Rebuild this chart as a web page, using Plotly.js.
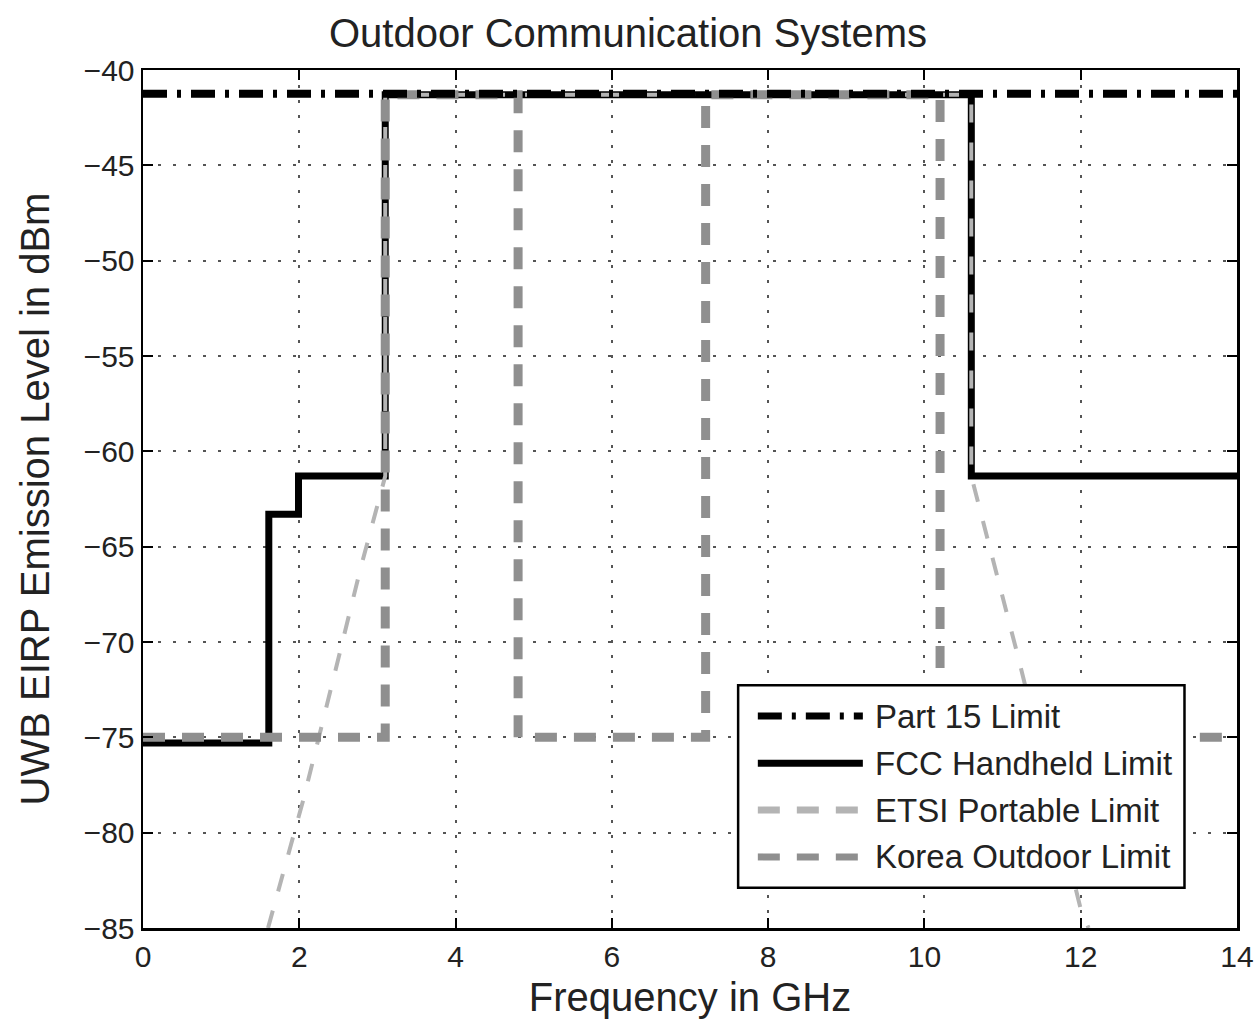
<!DOCTYPE html>
<html>
<head>
<meta charset="utf-8">
<script src="https://cdn.plot.ly/plotly-3.0.1.min.js"></script>
<style>
html,body{margin:0;padding:0;background:#fff;}
#chart{width:1256px;height:1026px;}
</style>
</head>
<body>
<div id="chart"></div>
<script>
// ---- data ----
const part15Freq  = [0, 14];
const part15Level = [-41.25, -41.25];

const fccFreq  = [0, 1.61, 1.61, 1.99, 1.99, 3.1, 3.1, 10.6, 10.6, 14];
const fccLevel = [-75.3, -75.3, -63.3, -63.3, -61.3, -61.3, -41.3, -41.3, -61.3, -61.3];

const etsiFreq  = [1.6, 2.05, 2.42, 2.78, 3.1, 3.1, 10.6, 10.6, 11.2, 12.0, 12.1];
const etsiLevel = [-85, -78.3, -72.2, -66.2, -61.3, -41.3, -41.3, -61.3, -70.8, -84.0, -85];

const koreaFreq  = [0, 3.1, 3.1, 4.8, 4.8, 7.2, 7.2, 10.2, 10.2, 14];
const koreaLevel = [-75, -75, -41.3, -41.3, -75, -75, -41.3, -41.3, -75, -75];

const seriesNames = ["Part 15 Limit", "FCC Handheld Limit", "ETSI Portable Limit", "Korea Outdoor Limit"];

// ---- styles ----
const FONT = "Liberation Sans, Arial, Helvetica, sans-serif";
const TXT = "#222";
const styles = {
  part15: {color: "#000000", width: 8, dash: "24px,10px,4px,10px"},
  fcc:    {color: "#000000", width: 7, dash: "solid"},
  etsi:   {color: "#b4b4b4", width: 4, dash: "18px,20px"},
  korea:  {color: "#8f8f8f", width: 9, dash: "22px,17px"}
};

const traces = [
  {x: fccFreq, y: fccLevel, name: seriesNames[1], mode: "lines", line: styles.fcc},
  {x: etsiFreq, y: etsiLevel, name: seriesNames[2], mode: "lines", line: styles.etsi},
  {x: koreaFreq, y: koreaLevel, name: seriesNames[3], mode: "lines", line: styles.korea},
  {x: part15Freq, y: part15Level, name: seriesNames[0], mode: "lines", line: styles.part15}
].map(t => Object.assign(t, {showlegend: false, hoverinfo: "skip"}));

// ---- custom legend (paper coordinates) ----
const legX0 = 0.544, legX1 = 0.952, legY0 = 0.047, legY1 = 0.283;
const sampleX0 = 0.562, sampleX1 = 0.658, textX = 0.667;
const rowY = [0.247, 0.192, 0.1375, 0.0828];
const legendStyles = [styles.part15, styles.fcc, styles.etsi, styles.korea];
const legendDash = ["24px,10px,4px,10px", "solid", "22px,17px", "22px,17px"];

const shapes = [{
  type: "rect", xref: "paper", yref: "paper",
  x0: legX0, x1: legX1, y0: legY0, y1: legY1,
  fillcolor: "#ffffff", line: {color: "#000", width: 2.5}, layer: "above"
}];
const annotations = [];
seriesNames.forEach((nm, i) => {
  const st = legendStyles[i];
  shapes.push({
    type: "line", xref: "paper", yref: "paper",
    x0: sampleX0, x1: sampleX1, y0: rowY[i], y1: rowY[i],
    line: {color: st.color, width: 7, dash: legendDash[i]}, layer: "above"
  });
  annotations.push({
    xref: "paper", yref: "paper", x: textX, y: rowY[i],
    xanchor: "left", yanchor: "middle", showarrow: false,
    text: nm, font: {family: FONT, size: 33, color: TXT}
  });
});

const axisCommon = {
  showline: true, linecolor: "#000", linewidth: 2.5, mirror: "ticks",
  ticks: "inside", ticklen: 10, tickwidth: 2, tickcolor: "#000",
  showgrid: true, gridcolor: "#555", gridwidth: 2, griddash: "3px,12px",
  zeroline: false, tickfont: {family: FONT, size: 30, color: TXT}
};

const layout = {
  width: 1256, height: 1026,
  paper_bgcolor: "#fff", plot_bgcolor: "#fff",
  margin: {l: 143, r: 19, t: 70, b: 98},
  title: {text: "Outdoor Communication Systems", x: 0.5, xanchor: "center",
          y: 0.968, yanchor: "middle", font: {family: FONT, size: 40, color: TXT}},
  xaxis: Object.assign({}, axisCommon, {
    range: [0, 14], dtick: 2, tick0: 0,
    title: {text: "Frequency in GHz", font: {family: FONT, size: 40, color: TXT}, standoff: 12}
  }),
  yaxis: Object.assign({}, axisCommon, {
    range: [-85, -40], dtick: 5, tick0: -85,
    title: {text: "UWB EIRP Emission Level in dBm", font: {family: FONT, size: 40, color: TXT}, standoff: 22}
  }),
  shapes: shapes,
  annotations: annotations
};

Plotly.newPlot("chart", traces, layout, {displayModeBar: false, staticPlot: true});
</script>
</body>
</html>
